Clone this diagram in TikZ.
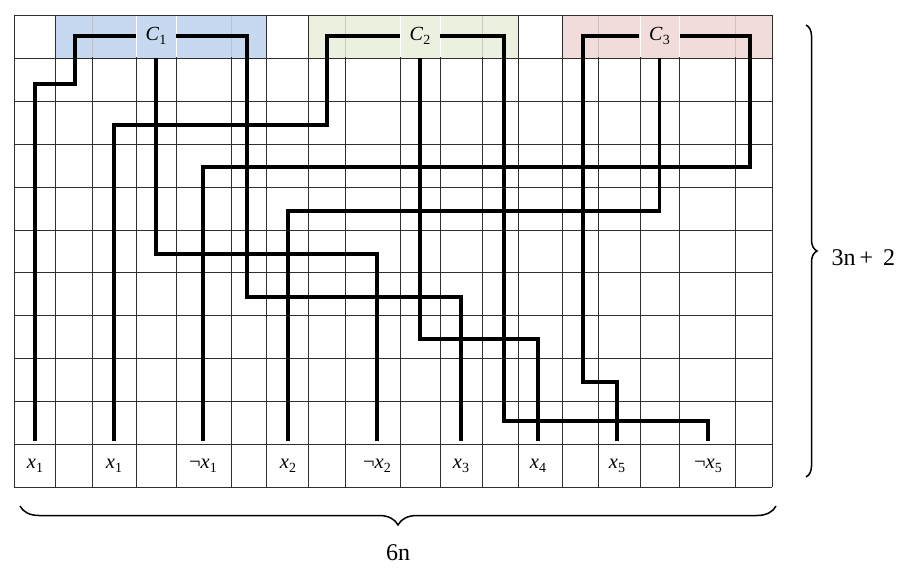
\documentclass[tikz,border=0pt]{standalone}
\usepackage{fontspec}
\setmainfont{Liberation Serif}
\usetikzlibrary{decorations.pathreplacing}
\definecolor{cblue}{HTML}{C6D9F1}
\definecolor{cgreen}{HTML}{EBF1DE}
\definecolor{cpink}{HTML}{F2DCDB}
\newcommand{\subidx}[1]{{\fontsize{14}{16}\selectfont\raisebox{-4pt}{#1}}}
\newcommand{\vlab}[1]{{\fontsize{20.5}{22}\selectfont\itshape x}\subidx{#1}}
\newcommand{\nvlab}[1]{{\fontsize{20.5}{22}\selectfont ¬}\vlab{#1}}
\newcommand{\clab}[1]{{\fontsize{20}{22}\selectfont\itshape C}\kern0.5pt\subidx{#1}}
\begin{document}
\begin{tikzpicture}[x=1pt,y=-1pt,
  gridline/.style={draw=black!82,line width=0.9pt},
  wire/.style={line width=3.6pt,line join=miter},
  clabel/.style={minimum width=40pt,minimum height=43pt,inner sep=0pt},
  vlabel/.style={minimum width=30pt,minimum height=43pt,inner sep=0pt},
  bracestyle/.style={decorate,line width=1.5pt},
  dimlabel/.style={font=\fontsize{24}{26}\selectfont}]
\useasboundingbox (0,0) rectangle (922,572);
% coloured clause cells
\fill[cblue] (55,15) rectangle (266,58);
\fill[cgreen] (308,15) rectangle (518,58);
\fill[cpink] (562,15) rectangle (772,58);
% grid
\foreach \x in {14,55,92,136,176,231,266,308,345,400,440,482,518,562,598,640,679,735,772}
  \draw[gridline] (\x,15) -- (\x,487);
\foreach \y in {15,58,101,144,187,230,272,315,358,401,444,487}
  \draw[gridline] (14,\y) -- (772,\y);
% lighter lines inside the coloured blocks
\foreach \x in {92,231} \draw[draw=cblue!70!black!60,line width=0.8pt] (\x,15.6) -- (\x,57.4);
\foreach \x in {136,176} \draw[draw=white,line width=1pt] (\x,15.6) -- (\x,57.4);
\foreach \x in {345,482} \draw[draw=cgreen!70!black!60,line width=0.8pt] (\x,15.6) -- (\x,57.4);
\foreach \x in {400,440} \draw[draw=white,line width=1pt] (\x,15.6) -- (\x,57.4);
\foreach \x in {598,735} \draw[draw=cpink!70!black!60,line width=0.8pt] (\x,15.6) -- (\x,57.4);
\foreach \x in {640,679} \draw[draw=white,line width=1pt] (\x,15.6) -- (\x,57.4);
% clause labels
\node[clabel] (C1) at (156,36) {\raisebox{3pt}{\clab{1}}};
\node[clabel] (C2) at (420,36) {\raisebox{3pt}{\clab{2}}};
\node[clabel] (C3) at (659.5,36) {\raisebox{3pt}{\clab{3}}};
% variable labels
\node[vlabel] (l1) at (35,465.5) {\vlab{1}};
\node[vlabel] (l2) at (114,465.5) {\vlab{1}};
\node[vlabel] (l3) at (203,465.5) {\nvlab{1}};
\node[vlabel] (l4) at (288,465.5) {\vlab{2}};
\node[vlabel] (l5) at (377,465.5) {\nvlab{2}};
\node[vlabel] (l6) at (461,465.5) {\vlab{3}};
\node[vlabel] (l7) at (538,465.5) {\vlab{4}};
\node[vlabel] (l8) at (617,465.5) {\vlab{5}};
\node[vlabel] (l9) at (708,465.5) {\nvlab{5}};
% wires
\begin{scope}[shorten >=3pt]
\draw[wire] (C1.west) -- (75,36) -- (75,84) -- (l1.north |- 0,84) -- (l1.north);
\draw[wire] (C1.south) -- (C1.south |- 0,254) -- (l5.north |- 0,254) -- (l5.north);
\draw[wire] (C1.east) -- (247,36) -- (247,297) -- (l6.north |- 0,297) -- (l6.north);
\draw[wire] (C2.west) -- (327,36) -- (327,125) -- (l2.north |- 0,125) -- (l2.north);
\draw[wire] (C2.south) -- (C2.south |- 0,339) -- (l7.north |- 0,339) -- (l7.north);
\draw[wire] (C2.east) -- (504,36) -- (504,421) -- (l9.north |- 0,421) -- (l9.north);
\draw[wire] (C3.west) -- (583,36) -- (583,382) -- (l8.north |- 0,382) -- (l8.north);
\draw[wire] (C3.south) -- (C3.south |- 0,211) -- (l4.north |- 0,211) -- (l4.north);
\draw[wire] (C3.east) -- (750,36) -- (750,167) -- (l3.north |- 0,167) -- (l3.north);
\end{scope}
% braces
\coordinate (rbt) at (806,25);
\coordinate (rbb) at (806,477);
\draw[bracestyle,decoration={brace,amplitude=11pt}] (rbt) -- (rbb);
\node[dimlabel,anchor=west] (rows) at (828,258) {3n\kern4pt+\kern10pt2};
\coordinate (bbr) at (776,506);
\coordinate (bbl) at (20,506);
\draw[bracestyle,decoration={brace,amplitude=19pt}] (bbr) -- (bbl);
\node[dimlabel] (cols) at (398,553) {6n};
\end{tikzpicture}
\end{document}
